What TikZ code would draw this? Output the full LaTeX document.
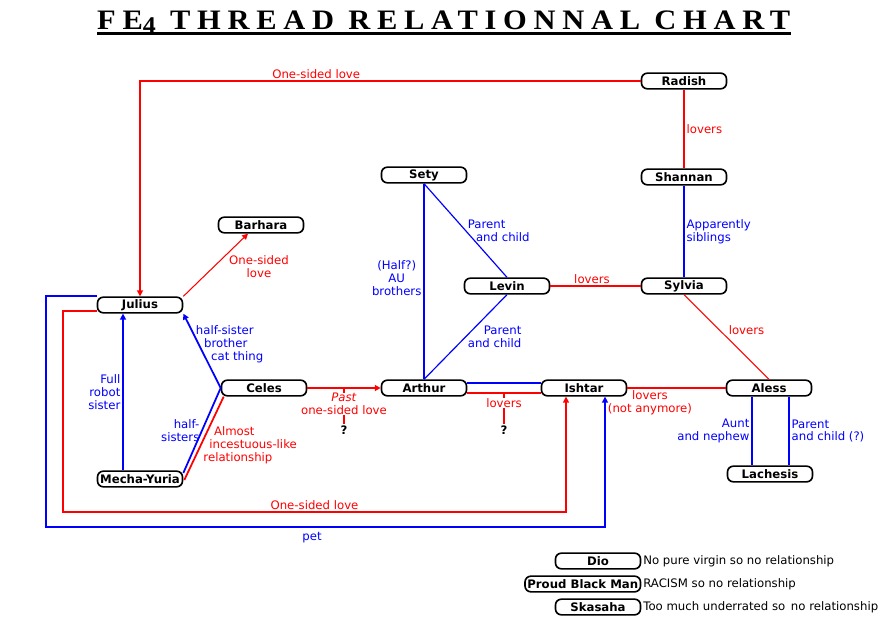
\documentclass[tikz,border=0pt]{standalone}
\usepackage{fontspec}
\setmainfont{DejaVu Sans}
\newfontfamily\titlefont[LetterSpace=22]{Liberation Serif}
\usepackage{xcolor}
\usepackage{tikz}
\usetikzlibrary{arrows.meta,positioning,calc}
\definecolor{relred}{RGB}{255,0,0}
\definecolor{relblue}{RGB}{0,0,255}

\begin{document}
\begin{tikzpicture}[
  x=0.03cm, y=-0.03cm,
  >={Triangle[length=5pt,width=5pt]},
  box/.style={rectangle, draw, rounded corners=5pt, line width=1.4pt, font=\fontsize{10}{11}\selectfont\bfseries,
              minimum width=2.55cm, minimum height=0.47cm, inner xsep=2pt, inner ysep=0pt},
  lbl/.style={font=\fontsize{10}{11}\selectfont, align=center, inner sep=1.5pt},
  redline/.style={draw=relred, line width=1.5pt},
  blueline/.style={draw=relblue, line width=1.5pt},
  thinred/.style={draw=relred, line width=0.9pt},
  thinblue/.style={draw=relblue, line width=1pt}
]
  \fill[white] (0,0) rectangle (893,627);
  \useasboundingbox (0,0) rectangle (893,627);

  \node[anchor=base west, inner sep=0] (title) at (97,30)
    {\resizebox{20.79cm}{0.56cm}{\titlefont\bfseries FE\raisebox{-0.3ex}{\scalebox{0.85}{4}} THREAD RELATIONNAL CHART}};
  \draw[line width=2.4pt] ($(title.base west)+(0,3.5)$) -- ($(title.base east)+(0,3.5)$);

  \node[box] (radish)   at (684,81)  {Radish};
  \node[box] (shannan)  at (684,177) {Shannan};
  \node[box] (sylvia)   at (684,286) {Sylvia};
  \node[box] (sety)     at (424,175) {Sety};
  \node[box] (levin)    at (507,286) {Levin};
  \node[box] (barhara)  at (261,225) {Barhara};
  \node[box] (julius)   at (140,305) {Julius};
  \node[box] (celes)    at (264,388) {Celes};
  \node[box] (arthur)   at (424,388) {Arthur};
  \node[box] (ishtar)   at (584,388) {Ishtar};
  \node[box] (aless)    at (769,388) {Aless};
  \node[box] (lachesis) at (770,474) {Lachesis};
  \node[box] (mecha)    at (140,479) {Mecha-Yuria};
  \node[box] (dio)      at (598,561) {Dio};
  \node[box, minimum width=0pt, anchor=east] (pbm) at ($(dio.east)+(0,23)$) {Proud Black Man};
  \node[box, anchor=east] (skasaha) at ($(pbm.east)+(0,23)$) {Skasaha};
  \node[lbl, anchor=west] (dionote) at (dio.east) {No pure virgin so no relationship};
  \node[lbl, anchor=west] (pbmnote) at (pbm.east) {RACISM so no relationship};
  \node[lbl, anchor=west] (skanote) at (skasaha.east) {Too much underrated so\, no relationship};

  \node[lbl, font=\fontsize{10}{11}\selectfont\bfseries] (q1) at (344,430) {?};
  \node[lbl, font=\fontsize{10}{11}\selectfont\bfseries] (q2) at (504,430) {?};
  \node[lbl, text=relred, inner sep=0pt] (pastlbl) at (344,404) {\textit{Past}\\one-sided love};
  \node[lbl, text=relred, inner sep=0pt] (loverslbl) at (504,403) {lovers};

  \draw[redline, ->] (radish.west) -| (julius.north)
    node[lbl, pos=0.324, above, text=relred] {One-sided love};
  \draw[redline] (radish) -- (shannan) node[lbl, midway, right, text=relred] {lovers};
  \draw[blueline] (shannan) -- (sylvia)
    node[lbl, midway, right, align=left, text=relblue] {Apparently\\siblings};
  \draw[redline] (levin) -- (sylvia) node[lbl, midway, above, xshift=-3pt, text=relred] {lovers};
  \draw[thinred] (sylvia.south) -- (aless.north)
    node[lbl, midway, above right, text=relred] {lovers};
  \draw[blueline] (sety.south) -- (arthur.north)
    node[lbl, midway, left, yshift=3pt, text=relblue] {(Half?)\\AU\\brothers};
  \draw[thinblue] (sety.south) -- (levin.north)
    node[lbl, midway, right, align=left, text=relblue] {Parent\\\hspace{7pt}and child};
  \draw[thinblue] (levin.south) -- (arthur.north)
    node[lbl, midway, right, align=right, text=relblue] {Parent\\and child};

  \draw[redline, ->] (celes) -- (arthur);
  \draw[redline] ($(celes.east)!0.5!(arthur.west)$) -- (pastlbl.north);
  \draw[redline] (pastlbl.south) -- (q1.north);

  \draw[blueline] ($(arthur.east)+(0,-5)$) -- ($(ishtar.west)+(0,-5)$);
  \draw[redline] ($(arthur.east)+(0,5)$) -- ($(ishtar.west)+(0,5)$);
  \draw[redline] ($(arthur.east)!0.5!(ishtar.west)+(0,5)$) -- (loverslbl.north);
  \draw[redline] (loverslbl.south) -- (q2.north);

  \draw[redline] (ishtar) -- (aless)
    node[lbl, pos=0.23, below, text=relred] {lovers\\(not anymore)};
  \draw[blueline] ($(aless.south)+(-17,0)$) -- ($(lachesis.north)+(-18,0)$)
    node[lbl, midway, left, align=right, text=relblue] {Aunt\\and nephew};
  \draw[blueline] ($(aless.south)+(20,0)$) -- ($(lachesis.north)+(19,0)$)
    node[lbl, midway, right, align=left, text=relblue] {Parent\\and child (?)};

  \draw[thinred, ->] (julius.north east) -- ($(barhara.south)+(-13,0)$);
  \node[lbl, text=relred] at (259,267) {One-sided\\love};
  \draw[blueline, ->] (celes.west) -- (julius.south east);
  \node[lbl, align=left, text=relblue, anchor=west] at (194,344)
    {half-sister\\\hspace{7pt}brother\\\hspace{13pt}cat thing};
  \draw[blueline, ->] ($(mecha.north)+(-17,0)$) -- ($(julius.south)+(-17,0)$)
    node[lbl, midway, left, align=right, text=relblue] {Full\\robot\\sister};
  \draw[blueline] ($(mecha.east)+(0,-6)$) -- (celes.west)
    node[lbl, midway, left, align=right, text=relblue] {half-\\sisters};
  \draw[redline] ($(mecha.east)+(1,1)$) -- ($(celes.south west)+(3,0)$)
    node[lbl, pos=0.42, right, align=left, text=relred]
    {\hspace{9pt}Almost\\\hspace{5pt}incestuous-like\\relationship};

  \draw[redline, ->] ($(julius.west)+(0,6)$) -| (63,512) -| node[lbl, pos=0.25, above, text=relred] {One-sided love}
    ($(ishtar.south)+(-18,0)$);
  \draw[blueline, ->] (julius.north west) -| (46,527) -| node[lbl, pos=0.238, below, yshift=-2pt, text=relblue] {pet}
    ($(ishtar.south)+(21,0)$);
\end{tikzpicture}
\end{document}
